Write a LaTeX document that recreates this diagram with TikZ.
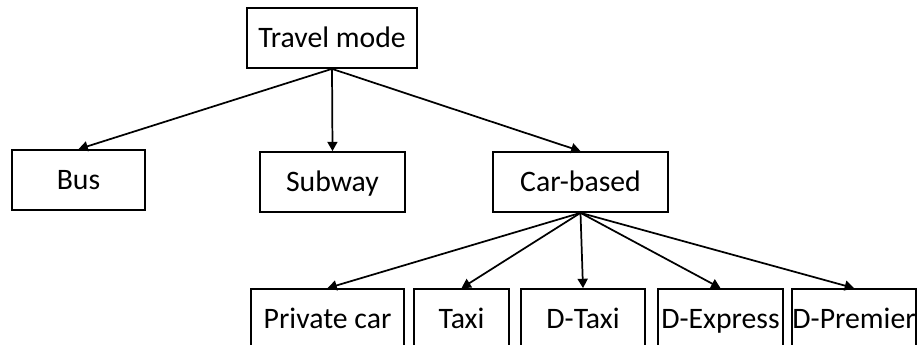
\documentclass[tikz,border=0pt]{standalone}
\usepackage{fontspec}
\setmainfont{Carlito}
\usetikzlibrary{arrows.meta}
\begin{document}
\begin{tikzpicture}[x=0.75pt,y=-0.75pt,
  box/.style={draw=black,line width=1.3pt,inner sep=0pt,minimum height=45pt,text height=16.7pt,text depth=2.2pt,font=\fontsize{22.3pt}{26pt}\selectfont},
  conn/.style={draw=black,line width=1.3pt,-{Triangle[length=7pt,width=7.5pt]}}]
\useasboundingbox (0,0) rectangle (919,345);
\clip (0,0) rectangle (919,345);
\node[box,minimum width=127.5pt] (tm) at (332,38) {Travel mode};
\node[box,minimum width=100pt] (bus) at (78.5,180) {Bus};
\node[box,minimum width=109pt] (sub) at (332.5,182) {Subway};
\node[box,minimum width=131pt] (car) at (580.5,182) {Car-based};
\node[box,minimum width=115pt] (pc) at (327.5,319) {Private car};
\node[box,minimum width=71pt] (taxi) at (461.5,319) {Taxi};
\node[box,minimum width=93pt] (dtaxi) at (583,319) {D-Taxi};
\node[box,minimum width=94pt] (dexp) at (720.5,319) {D-Express};
\node[box,minimum width=93pt] (dprem) at (854,319) {D-Premier};
\draw[conn] (tm.south) -- (bus.north);
\draw[conn] (tm.south) -- (sub.north);
\draw[conn] (tm.south) -- (car.north);
\draw[conn] (car.south) -- (pc.north);
\draw[conn] (car.south) -- (taxi.north);
\draw[conn] (car.south) -- (dtaxi.north);
\draw[conn] (car.south) -- (dexp.north);
\draw[conn] (car.south) -- (dprem.north);
\end{tikzpicture}
\end{document}
